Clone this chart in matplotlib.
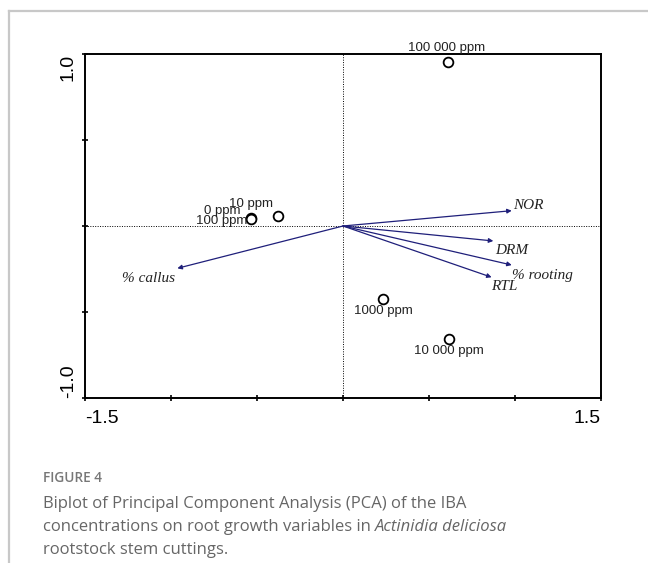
import matplotlib
matplotlib.use("Agg")
import matplotlib.pyplot as plt
from matplotlib.lines import Line2D

# PCA scores of the IBA treatments
samples = ["0 ppm", "10 ppm", "100 ppm", "1000 ppm", "10 000 ppm", "100 000 ppm"]
sample_x = [-0.537, -0.380, -0.535, 0.234, 0.618, 0.610]
sample_y = [0.047, 0.060, 0.043, -0.426, -0.659, 0.953]
# label offsets in pixels from each point
sample_dx = [-28, -27, -29, 0, 0, -1]
sample_dy = [7, 12, -2, -12, -12, 14]

# loadings of the root growth variables
variables = ["NOR", "DRM", "% rooting", "RTL", "% callus"]
var_x = [0.981, 0.874, 0.981, 0.864, -0.963]
var_y = [0.089, -0.087, -0.227, -0.298, -0.246]
var_dx = [1, 18, 0, 13, -29]
var_dy = [5, -10, -10, -9, -10]
var_ha = ["left", "center", "left", "center", "center"]

ARROW = "#1f1f7a"

fig = plt.figure(figsize=(6.48, 5.63), dpi=100)
ax = fig.add_axes([85 / 648, 1 - 398 / 563, 516 / 648, 344 / 563])

ax.set_xlim(-1.5, 1.5)
ax.set_ylim(-1.0, 1.0)
ax.axhline(0, color="black", lw=0.7, ls=(0, (1, 1.5)), zorder=1)
ax.axvline(0, color="black", lw=0.7, ls=(0, (1, 1.5)), zorder=1)

for s in ax.spines.values():
    s.set_linewidth(1.4)

ax.set_xticks([-1.5, -1.0, -0.5, 0.0, 0.5, 1.0, 1.5])
ax.set_xticklabels(["-1.5", "", "", "", "", "", "1.5"])
ax.set_yticks([-1.0, -0.5, 0.0, 0.5, 1.0])
ax.set_yticklabels(["-1.0", "", "", "", "1.0"])
ax.tick_params(direction="inout", length=5, width=1.2, labelsize=14, pad=6)
ax.tick_params(axis="y", pad=3.5)
for lab in ax.get_xticklabels() + ax.get_yticklabels():
    lab.set_fontfamily("Liberation Sans")
xl = ax.get_xticklabels()
xl[0].set_ha("left")
xl[-1].set_ha("right")
yl = ax.get_yticklabels()
for lab in yl:
    lab.set_rotation(90)
    lab.set_ha("right")
yl[0].set_va("bottom")
yl[-1].set_va("top")

# variable arrows
for name, x, y, dx, dy, ha in zip(variables, var_x, var_y, var_dx, var_dy, var_ha):
    ax.annotate("", xy=(x, y), xytext=(0, 0),
                arrowprops=dict(arrowstyle="-|>", color=ARROW, lw=0.9,
                                mutation_scale=6.5, shrinkA=0, shrinkB=0))
    ax.annotate(name, xy=(x, y), xytext=(dx, dy), textcoords="offset pixels",
                ha=ha, va="center", fontsize=11, style="italic",
                family="Liberation Serif", color="#222222")

# treatment points
ax.plot(sample_x, sample_y, "o", mfc="white", mec="black", ms=7, mew=1.3,
        zorder=4, ls="none")
for name, x, y, dx, dy in zip(samples, sample_x, sample_y, sample_dx, sample_dy):
    ax.annotate(name, xy=(x, y), xytext=(dx, dy), textcoords="offset pixels",
                ha="center", va="center", fontsize=9.5,
                family="Liberation Sans", color="#222222", zorder=5)

# grey page frame
fig.add_artist(Line2D([9 / 648, 1], [1 - 11 / 563, 1 - 11 / 563],
                      color="#c8c8c8", lw=1.6))
fig.add_artist(Line2D([9 / 648, 9 / 648], [0, 1 - 11 / 563],
                      color="#c8c8c8", lw=1.6))

# caption
cap = "#666666"
cx = 43 / 648
fig.text(cx, 1 - 478 / 563, "FIGURE 4", fontsize=9.8, weight="semibold",
         family="Open Sans", color="#777777", va="center")
fig.text(cx, 1 - 504 / 563,
         "Biplot of Principal Component Analysis (PCA) of the IBA",
         fontsize=12, family="Open Sans", color=cap, va="center")
t = fig.text(cx, 1 - 527 / 563,
             "concentrations on root growth variables in ",
             fontsize=12, family="Open Sans", color=cap, va="center")
fig.canvas.draw()
bb = t.get_window_extent().transformed(fig.transFigure.inverted())
fig.text(bb.x1, 1 - 527 / 563, "Actinidia deliciosa", fontsize=12,
         family="Open Sans", style="italic", color=cap, va="center")
fig.text(cx, 1 - 550 / 563, "rootstock stem cuttings.",
         fontsize=12, family="Open Sans", color=cap, va="center")

fig.savefig("out.png", dpi=100)
